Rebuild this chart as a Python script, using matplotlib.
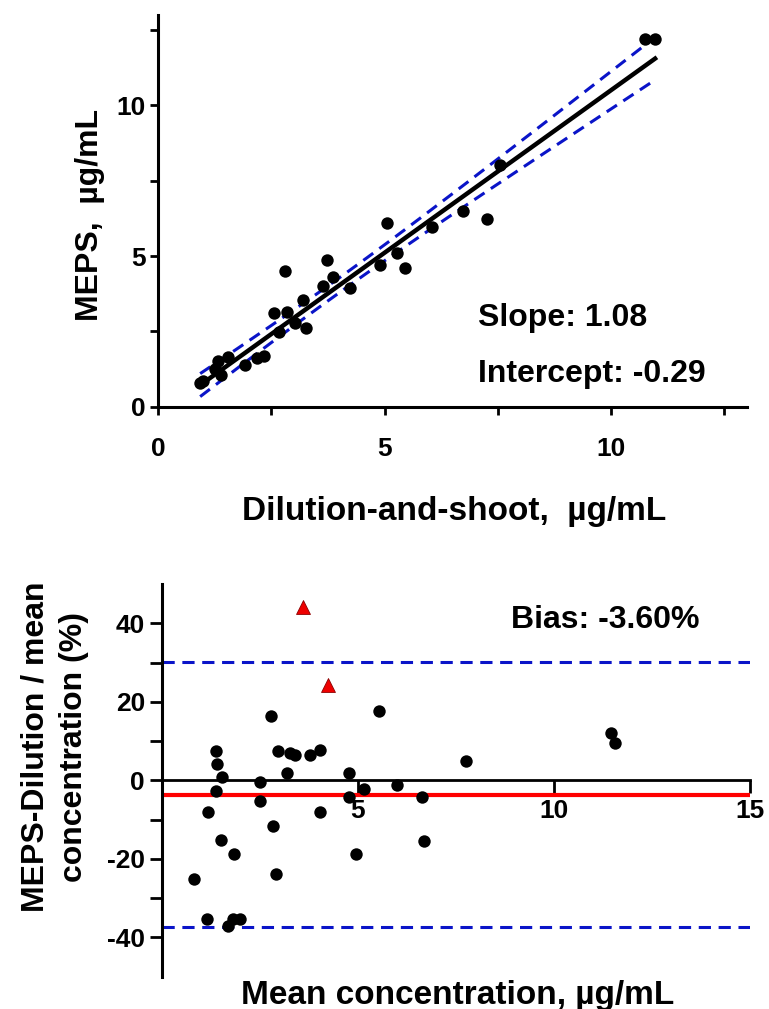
import numpy as np
import matplotlib
matplotlib.use("Agg")
import matplotlib.pyplot as plt
from matplotlib.ticker import FixedLocator

plt.rcParams['font.family'] = ['Liberation Sans', 'DejaVu Sans']
plt.rcParams['font.weight'] = 'bold'
plt.rcParams['axes.unicode_minus'] = False

# --- top panel: MEPS vs dilution-and-shoot ---
ds_x = [0.93, 1.00, 1.25, 1.33, 1.40, 1.55, 1.92, 2.18, 2.33, 2.55, 2.66, 2.80, 2.84,
        3.02, 3.20, 3.27, 3.65, 3.72, 3.87, 4.24, 4.90, 5.05, 5.27, 5.45, 6.04, 6.74,
        7.26, 7.55, 10.75, 10.97]
meps_y = [0.78, 0.85, 1.25, 1.50, 1.05, 1.66, 1.39, 1.61, 1.69, 3.10, 2.49, 4.49, 3.14,
          2.77, 3.55, 2.60, 3.99, 4.87, 4.32, 3.93, 4.71, 6.11, 5.10, 4.60, 5.98, 6.51,
          6.22, 8.03, 12.2, 12.2]
slope = 1.08
intercept = -0.29

# --- bottom panel: Bland-Altman ---
ba_mean = [0.82, 1.16, 1.17, 1.39, 1.40, 1.55, 1.39, 1.51, 1.70, 1.83, 1.84, 1.99, 2.51,
           2.51, 2.78, 2.83, 2.91, 2.97, 3.19, 3.27, 3.40, 3.78, 4.04, 4.04, 4.79, 4.79,
           4.96, 5.16, 5.55, 6.01, 6.63, 6.69, 7.76, 11.45, 11.56]
ba_diff = [-25.1, -35.3, -8.0, 7.4, 4.2, 0.8, -2.6, -15.1, -37.1, -35.2, -18.7, -35.3, -0.5,
           -5.3, 16.3, -11.7, -23.8, 7.4, 2.0, 7.1, 6.4, 6.4, 7.8, -8.0, 1.9, -4.3,
           -18.7, -2.2, 17.7, -1.1, -4.3, -15.5, 5.0, 12.1, 9.5]
outlier_mean = [3.61, 4.25]
outlier_diff = [44.1, 24.3]
bias = -3.60
loa_upper = 30.1
loa_lower = -37.3

BLUE = '#0a14c8'

fig = plt.figure(figsize=(7.69, 10.09), dpi=100)

# ----- top plot -----
ax1 = fig.add_axes([0.2055, 0.597, 0.766, 0.388])
x = np.array(ds_x)
y = np.array(meps_y)
n = len(x)
xfit = np.linspace(x.min(), x.max(), 200)
yfit = slope * xfit + intercept
# 95% confidence band of the regression line from the residuals
resid = y - (slope * x + intercept)
s = np.sqrt(np.sum(resid ** 2) / (n - 2))
sxx = np.sum((x - x.mean()) ** 2)
half = 2.04 * s * np.sqrt(1 / n + (xfit - x.mean()) ** 2 / sxx)

ax1.plot(xfit, yfit, color='black', lw=3.2, zorder=3)
ax1.plot(xfit, yfit + half, color=BLUE, lw=2.2, ls=(0, (4, 2.5)), zorder=4)
ax1.plot(xfit, yfit - half, color=BLUE, lw=2.2, ls=(0, (4, 2.5)), zorder=4)
ax1.scatter(x, y, s=80, color='black', zorder=5, linewidths=0)

ax1.set_xlim(0, 13)
ax1.set_ylim(0, 13)
for sp in ['top', 'right']:
    ax1.spines[sp].set_visible(False)
for sp in ['left', 'bottom']:
    ax1.spines[sp].set_linewidth(2.2)
ax1.xaxis.set_major_locator(FixedLocator([0, 5, 10]))
ax1.xaxis.set_minor_locator(FixedLocator([2.5, 7.5, 12.5]))
ax1.yaxis.set_major_locator(FixedLocator([0, 5, 10]))
ax1.yaxis.set_minor_locator(FixedLocator([2.5, 7.5, 12.5]))
ax1.tick_params(axis='both', which='both', direction='out', width=2, length=6, labelsize=19)
ax1.tick_params(axis='x', which='major', pad=16)
ax1.tick_params(axis='y', which='major', pad=3)

ax1.set_xlabel('Dilution-and-shoot,  µg/mL', fontsize=24, fontweight='bold')
ax1.xaxis.label.set_va('center')
ax1.xaxis.set_label_coords(0.502, -0.269)
ax1.set_ylabel('MEPS,  µg/mL', fontsize=23, fontweight='bold')
ax1.yaxis.label.set_va('center')
ax1.yaxis.set_label_coords(-0.1155, 0.49)

ax1.text(7.06, 2.94, 'Slope: 1.08', fontsize=23, fontweight='bold', va='center', ha='left')
ax1.text(7.06, 1.10, 'Intercept: -0.29', fontsize=23, fontweight='bold', va='center', ha='left')

# ----- bottom plot -----
ax2 = fig.add_axes([0.2103, 0.032, 0.7646, 0.389])
ax2.hlines(bias, 0, 15, color='#ff0000', lw=3, zorder=2)
ax2.hlines([loa_upper, loa_lower], 0, 15, color=BLUE, lw=2.2, linestyles=[(0, (4, 2.5))], zorder=2)
ax2.scatter(ba_mean, ba_diff, s=80, color='black', zorder=5, linewidths=0)
ax2.scatter(outlier_mean, outlier_diff, s=100, marker='^', color='#ee0000',
            edgecolors='#8b0000', linewidths=0.6, zorder=5)

ax2.set_xlim(0, 15)
ax2.set_ylim(-50, 50)
ax2.spines['top'].set_visible(False)
ax2.spines['right'].set_visible(False)
ax2.spines['bottom'].set_position(('data', 0))
ax2.spines['bottom'].set_linewidth(2)
ax2.spines['left'].set_linewidth(2.2)
ax2.xaxis.set_major_locator(FixedLocator([5, 10, 15]))
ax2.yaxis.set_major_locator(FixedLocator([-40, -20, 0, 20, 40]))
ax2.yaxis.set_minor_locator(FixedLocator([-30, -10, 10, 30]))
ax2.tick_params(axis='both', which='both', direction='out', width=2, length=9, labelsize=19)
ax2.tick_params(axis='x', which='major', pad=4)
ax2.tick_params(axis='y', which='major', pad=3)

ax2.set_xlabel('Mean concentration, µg/mL', fontsize=24, fontweight='bold')
ax2.xaxis.label.set_va('center')
ax2.xaxis.set_label_coords(0.503, -0.047)
ax2.set_ylabel('MEPS-Dilution / mean\nconcentration (%)', fontsize=23,
               fontweight='bold', linespacing=1.4)
ax2.yaxis.label.set_va('center')
ax2.yaxis.set_label_coords(-0.182, 0.586)

ax2.text(8.9, 41, 'Bias: -3.60%', fontsize=23, fontweight='bold', va='center', ha='left')

fig.savefig('out.png', dpi=100)
